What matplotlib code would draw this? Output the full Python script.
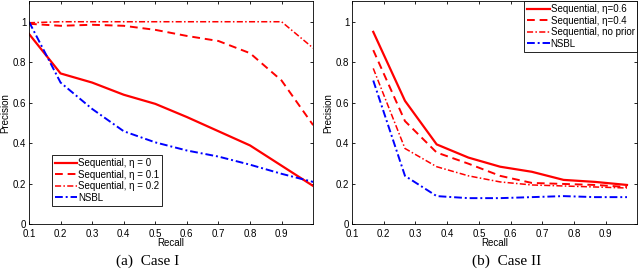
import matplotlib
matplotlib.use('Agg')
import matplotlib.pyplot as plt
import numpy as np

RED = '#ff0000'
BLUE = '#0000ff'

plt.rcParams.update({
    'font.family': ['Liberation Sans', 'DejaVu Sans'],
    'font.size': 7,
    'axes.linewidth': 0.6,
    'xtick.direction': 'in',
    'ytick.direction': 'in',
    'xtick.top': True,
    'ytick.right': True,
    'xtick.major.size': 2.5,
    'ytick.major.size': 2.5,
    'xtick.major.width': 0.6,
    'ytick.major.width': 0.6,
    'xtick.major.pad': 3.5,
    'ytick.major.pad': 2,
})

# Case I data
recall_1 = [0.1, 0.2, 0.3, 0.4, 0.5, 0.6, 0.7, 0.8, 0.9, 1.0]
seq_eta0 = [0.94, 0.745, 0.70, 0.64, 0.595, 0.53, 0.46, 0.39, 0.29, 0.19]
seq_eta01 = [0.99, 0.98, 0.985, 0.98, 0.96, 0.93, 0.905, 0.845, 0.71, 0.49]
seq_eta02 = [0.995, 1.0, 1.0, 1.0, 1.0, 1.0, 1.0, 1.0, 1.0, 0.87]
nsbl_1 = [1.0, 0.70, 0.57, 0.46, 0.405, 0.365, 0.335, 0.295, 0.25, 0.21]
labels_1 = ['Sequential, η = 0', 'Sequential, η = 0.1',
            'Sequential, η = 0.2', 'NSBL']

# Case II data
recall_2 = [0.167, 0.267, 0.367, 0.467, 0.567, 0.667, 0.767, 0.867, 0.967]
seq_eta06 = [0.95, 0.61, 0.395, 0.33, 0.285, 0.26, 0.22, 0.21, 0.195]
seq_eta04 = [0.86, 0.51, 0.355, 0.30, 0.24, 0.205, 0.20, 0.195, 0.185]
seq_noprior = [0.77, 0.375, 0.285, 0.24, 0.21, 0.195, 0.19, 0.185, 0.18]
nsbl_2 = [0.71, 0.24, 0.14, 0.13, 0.13, 0.135, 0.14, 0.135, 0.135]
labels_2 = ['Sequential, η=0.6', 'Sequential, η=0.4',
            'Sequential, no prior', 'NSBL']

xticks = [0.1, 0.2, 0.3, 0.4, 0.5, 0.6, 0.7, 0.8, 0.9]
yticks = [0, 0.2, 0.4, 0.6, 0.8, 1.0]
yticklabels = ['0', '0.2', '0.4', '0.6', '0.8', '1']

styles = [
    dict(color=RED, linestyle='-', linewidth=1.6),
    dict(color=RED, linestyle=(0, (4, 2.5)), linewidth=1.4),
    dict(color=RED, linestyle=(0, (4, 1.5, 1, 1.5)), linewidth=1.1),
    dict(color=BLUE, linestyle=(0, (4, 1.5, 1, 1.5)), linewidth=1.4),
]

fig = plt.figure(figsize=(6.4, 2.71), dpi=100)
ax1 = fig.add_axes([0.0453, 0.1716, 0.444, 0.823])
ax2 = fig.add_axes([0.550, 0.1716, 0.446, 0.823])


def style_axes(ax):
    ax.set_xlim(0.1, 1.0)
    ax.set_ylim(0, 1.1)
    ax.set_xticks(xticks)
    ax.set_xticklabels([f'{t:.1f}' for t in xticks])
    ax.set_yticks(yticks)
    ax.set_yticklabels(yticklabels)
    ax.set_xlabel('Recall', labelpad=-1)
    ax.set_ylabel('Precision', labelpad=2)


for ys, lab, st in zip([seq_eta0, seq_eta01, seq_eta02, nsbl_1], labels_1, styles):
    ax1.plot(recall_1, ys, label=lab, **st)
style_axes(ax1)
leg1 = ax1.legend(loc='lower left', bbox_to_anchor=(0.08, 0.085), fancybox=False,
                  edgecolor='black', framealpha=1, handlelength=2.3,
                  handletextpad=0.1, labelspacing=0.15, borderpad=0.3,
                  borderaxespad=0, fontsize=7)
leg1.get_frame().set_linewidth(0.6)

for ys, lab, st in zip([seq_eta06, seq_eta04, seq_noprior, nsbl_2], labels_2, styles):
    ax2.plot(recall_2, ys, label=lab, **st)
style_axes(ax2)
leg2 = ax2.legend(loc='upper right', fancybox=False, edgecolor='black',
                  framealpha=1, handlelength=2.3, handletextpad=0.1,
                  labelspacing=0.15, borderpad=0.3, borderaxespad=0, fontsize=7)
leg2.get_frame().set_linewidth(0.6)

fig.text(0.23, 0.022, '(a)  Case I', family='Liberation Serif', fontsize=11, ha='center')
fig.text(0.792, 0.022, '(b)  Case II', family='Liberation Serif', fontsize=11, ha='center')

fig.savefig('out.png', dpi=100)
